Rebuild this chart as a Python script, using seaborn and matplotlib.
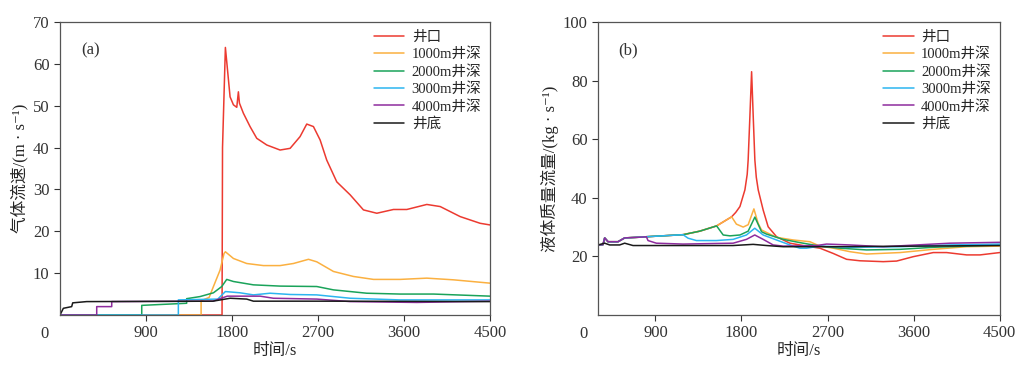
import pandas as pd
import seaborn as sns
import matplotlib.pyplot as plt
import numpy as np

sns.set_style('ticks')
plt.rcParams['font.family'] = ['Liberation Serif', 'Noto Sans CJK SC', 'DejaVu Sans']

series_names = ['井口', '1000m井深', '2000m井深', '3000m井深', '4000m井深', '井底']
colors = ['#ec3a30', '#fbb040', '#1aa35a', '#2cb5f0', '#8e2c9e', '#1a1a1a']

# (a) gas velocity, m/s
gas_t_wellhead = [0, 1695, 1700, 1730, 1779, 1814, 1849, 1866, 1877, 1918, 1988, 2058, 2163, 2302, 2407,
                  2511, 2581, 2651, 2721, 2790, 2895, 3035, 3174, 3314, 3488, 3628, 3837, 3977, 4186, 4395, 4500]
gas_v_wellhead = [0, 0, 40, 63.9, 52.1, 50.2, 49.6, 53.3, 50.6, 48.2, 45.0, 42.2, 40.6, 39.4, 39.8,
                  42.6, 45.6, 45.0, 41.8, 37.0, 31.8, 28.7, 25.1, 24.3, 25.2, 25.2, 26.4, 25.9, 23.5, 21.9, 21.5]
gas_t_1000 = [0, 1476, 1476, 1560, 1605, 1674, 1716, 1730, 1814, 1953, 2128, 2302, 2442, 2599, 2686,
              2860, 3070, 3279, 3558, 3837, 4116, 4500]
gas_v_1000 = [0, 0, 3.4, 4.2, 6.8, 10.7, 14.7, 15.1, 13.5, 12.3, 11.8, 11.8, 12.3, 13.3, 12.7,
              10.4, 9.2, 8.5, 8.5, 8.8, 8.4, 7.6]
gas_t_2000 = [0, 855, 855, 1325, 1325, 1465, 1605, 1692, 1744, 1814, 2023, 2302, 2686, 2860, 3209,
              3558, 3907, 4500]
gas_v_2000 = [0, 0, 2.3, 2.8, 3.9, 4.4, 5.3, 6.8, 8.5, 8.0, 7.2, 6.9, 6.8, 6.0, 5.2,
              5.0, 5.0, 4.5]
gas_t_3000 = [0, 1238, 1238, 1650, 1730, 1884, 2023, 2197, 2407, 2686, 3035, 3558, 4500]
gas_v_3000 = [0, 0, 3.6, 3.8, 5.6, 5.3, 4.8, 5.2, 4.9, 4.8, 4.0, 3.6, 3.6]
gas_t_4000 = [0, 384, 384, 541, 541, 1600, 1750, 2093, 2232, 2686, 3035, 3732, 4500]
gas_v_4000 = [0, 0, 2.0, 2.0, 3.2, 3.3, 4.5, 4.5, 4.0, 3.8, 3.2, 3.0, 3.3]
gas_t_bottom = [0, 35, 122, 133, 279, 1600, 1780, 1953, 2023, 2860, 4500]
gas_v_bottom = [0, 1.6, 2.0, 2.9, 3.2, 3.3, 4.0, 3.8, 3.3, 3.3, 3.2]

# (b) liquid mass flow, kg/s  (shared early part, then each depth splits off)
liq_t_shared = [300, 352, 370, 405, 509, 579, 771, 806, 1189, 1364, 1540, 1697]
liq_v_shared = [23.9, 24.0, 26.3, 25.0, 25.0, 26.3, 26.6, 26.7, 27.4, 28.6, 30.4, 33.5]
liq_t_wellhead = [1740, 1784, 1836, 1860, 1870, 1888, 1906, 1923, 1940, 1955, 1975, 2027, 2079, 2167,
                  2306, 2515, 2620, 2759, 2899, 3038, 3282, 3422, 3596, 3805, 3945, 4154, 4294, 4500]
liq_v_wellhead = [35.0, 37.0, 42.7, 48.0, 52.9, 67.7, 83.0, 67.7, 52.9, 47.0, 42.7, 35.8, 30.1, 26.7,
                  24.5, 23.3, 22.8, 21.0, 19.0, 18.5, 18.2, 18.4, 19.9, 21.3, 21.3, 20.5, 20.5, 21.3]
liq_t_1000 = [1747, 1818, 1870, 1930, 1974, 2010, 2166, 2340, 2515, 2620, 2759, 2934, 3108, 3457,
              3805, 4154, 4500]
liq_v_1000 = [31.0, 30.0, 30.8, 36.2, 31.3, 29.0, 26.5, 25.6, 25.0, 23.5, 22.8, 21.6, 20.8, 21.3,
              22.4, 23.3, 23.5]
liq_t_2000 = [1609, 1680, 1784, 1870, 1940, 2010, 2062, 2236, 2410, 2620, 2829, 3108, 3457, 3805, 4500]
liq_v_2000 = [27.3, 27.0, 27.3, 28.6, 33.4, 28.4, 27.6, 25.8, 24.7, 23.5, 22.8, 22.2, 22.4, 23.1, 23.9]
liq_t_3000 = [1242, 1329, 1538, 1713, 1852, 1939, 2027, 2166, 2340, 2410, 2480, 2620, 2934, 3457,
              3980, 4500]
liq_v_3000 = [26.2, 25.4, 25.4, 25.8, 27.3, 29.6, 27.3, 25.6, 23.5, 22.8, 22.8, 23.5, 23.1, 23.3,
              23.9, 24.2]
liq_t_4000 = [823, 910, 1189, 1713, 1852, 1939, 2027, 2131, 2236, 2585, 2690, 2934, 3282, 3631, 3980, 4500]
liq_v_4000 = [25.4, 24.5, 24.2, 24.5, 25.8, 27.3, 25.8, 23.9, 23.5, 23.7, 24.2, 23.9, 23.3, 23.9, 24.5, 24.8]
liq_t_bottom = [300, 370, 422, 527, 579, 666, 1713, 1922, 2062, 2236, 2759, 4500]
liq_v_bottom = [23.9, 24.5, 23.9, 23.9, 24.5, 23.7, 23.7, 24.1, 23.7, 23.3, 23.3, 23.7]


def build(pairs):
    frames = []
    for name, (t, v) in zip(series_names, pairs):
        frames.append(pd.DataFrame({'t': t, 'v': v, 'series': name}))
    return pd.concat(frames, ignore_index=True)


df_gas = build([(gas_t_wellhead, gas_v_wellhead), (gas_t_1000, gas_v_1000), (gas_t_2000, gas_v_2000),
                (gas_t_3000, gas_v_3000), (gas_t_4000, gas_v_4000), (gas_t_bottom, gas_v_bottom)])

# splice the shared start onto each liquid series up to its split point
def with_shared(t, v):
    n = sum(1 for x in liq_t_shared if x < t[0])
    return liq_t_shared[:n] + t, liq_v_shared[:n] + v

df_liq = build([with_shared(liq_t_wellhead, liq_v_wellhead), with_shared(liq_t_1000, liq_v_1000),
                with_shared(liq_t_2000, liq_v_2000), with_shared(liq_t_3000, liq_v_3000),
                with_shared(liq_t_4000, liq_v_4000), (liq_t_bottom, liq_v_bottom)])

fig = plt.figure(figsize=(10.17, 3.65), dpi=100)
ax1 = fig.add_axes([0.059, 0.137, 0.423, 0.803])
ax2 = fig.add_axes([0.588, 0.137, 0.395, 0.803])

panels = [
    (ax1, df_gas, (0, 4500), (0, 70), [10, 20, 30, 40, 50, 60, 70], '气体流速/(m · s⁻¹)', '(a)'),
    (ax2, df_liq, (300, 4500), (0, 100), [20, 40, 60, 80, 100], '液体质量流量/(kg · s⁻¹)', '(b)'),
]

for ax, df, xlim, ylim, yticks, ylabel, tag in panels:
    sns.lineplot(data=df, x='t', y='v', hue='series', hue_order=series_names,
                 palette=colors, estimator=None, sort=False, linewidth=1.1, ax=ax)
    ax.set_xlim(*xlim)
    ax.set_ylim(*ylim)
    ax.set_xticks([900, 1800, 2700, 3600, 4500])
    ax.set_yticks(yticks)
    ax.tick_params(labelsize=12, length=4, width=0.8, colors='#333333')
    ax.set_xlabel('时间/s', fontsize=12, labelpad=1)
    ax.set_ylabel(ylabel, fontsize=12, labelpad=3)
    for sp in ax.spines.values():
        sp.set_color('#555555')
        sp.set_linewidth(0.9)
    ax.text(0.05, 0.93, tag, transform=ax.transAxes, fontsize=12, va='top', color='#333333')
    ax.text(-0.035, -0.065, '0', transform=ax.transAxes, fontsize=12, ha='center', va='center', color='#333333')
    leg = ax.legend(loc='upper right', frameon=False, fontsize=10.5, handlelength=2.1,
                    labelspacing=0.25, handletextpad=0.5, borderaxespad=0.2)

fig.savefig('out.png', dpi=100)
